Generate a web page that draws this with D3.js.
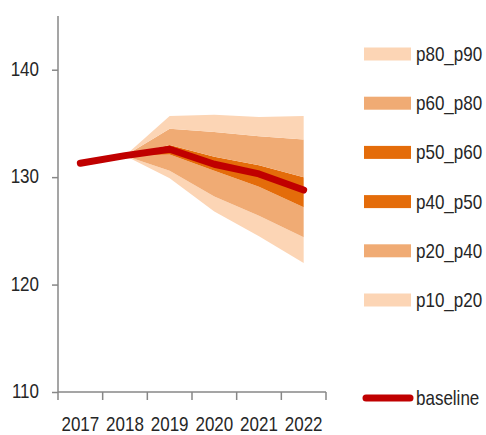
<!DOCTYPE html>
<html>
<head>
<meta charset="utf-8">
<script src="https://cdn.jsdelivr.net/npm/d3@7"></script>
<style>
  html, body { margin: 0; padding: 0; background: #fff; }
  svg { display: block; }
  text { font-family: "Liberation Sans", Arial, sans-serif; fill: #262626; }
</style>
</head>
<body>
<svg id="chart" width="486" height="435"></svg>
<script>
// ---- data ----
const years = ["2017", "2018", "2019", "2020", "2021", "2022"];
const baseline = [131.3, 132.0, 132.6, 131.2, 130.3, 128.8];
const fanYears = ["2018", "2019", "2020", "2021", "2022"];
const p10 = [132.0, 129.9, 126.8, 124.5, 122.0];
const p20 = [132.0, 130.6, 128.2, 126.4, 124.4];
const p40 = [132.0, 132.1, 130.6, 129.1, 127.2];
const p50 = [132.0, 132.5, 131.2, 130.2, 128.6];
const p60 = [132.0, 133.0, 131.9, 131.1, 130.0];
const p80 = [132.0, 134.5, 134.2, 133.8, 133.5];
const p90 = [132.0, 135.7, 135.8, 135.6, 135.7];
const yTicks = [110, 120, 130, 140];
const yDomain = [110, 145];
const legendLabels = ["p80_p90", "p60_p80", "p50_p60", "p40_p50", "p20_p40", "p10_p20"];
const baselineLabel = "baseline";

// ---- styles ----
const cLight = "#FCD5B5", cMid = "#F0AB74", cDark = "#E46C0A", cBase = "#C00000", cAxis = "#878787";
const SX = 0.85; // horizontal condensing of text (narrow look)

const bands = [
  { name: "p10_p20", lo: p10, hi: p20, color: cLight },
  { name: "p20_p40", lo: p20, hi: p40, color: cMid },
  { name: "p40_p50", lo: p40, hi: p50, color: cDark },
  { name: "p50_p60", lo: p50, hi: p60, color: cDark },
  { name: "p60_p80", lo: p60, hi: p80, color: cMid },
  { name: "p80_p90", lo: p80, hi: p90, color: cLight }
];
const colorOf = Object.fromEntries(bands.map(b => [b.name, b.color]));

const svg = d3.select("#chart");
const x = d3.scaleBand().domain(years).range([58, 326]).padding(0);
const y = d3.scaleLinear().domain(yDomain).range([392, 16]);
const cx = d => x(d) + x.bandwidth() / 2;

function label(g, tx, ty, str, anchor) {
  return g.append("text")
    .attr("transform", `translate(${tx},${ty}) scale(${SX},1)`)
    .attr("text-anchor", anchor || "start")
    .attr("dy", "0.35em")
    .attr("font-size", 20)
    .text(str);
}

// fan bands
const area = d3.area()
  .x(d => cx(d.year))
  .y0(d => y(d.lo))
  .y1(d => y(d.hi));
bands.forEach(b => {
  const pts = fanYears.map((yr, i) => ({ year: yr, lo: b.lo[i], hi: b.hi[i] }));
  svg.append("path").attr("d", area(pts)).attr("fill", b.color).attr("stroke", "none");
});

// baseline line
const line = d3.line().x((d, i) => cx(years[i])).y(d => y(d));
svg.append("path").attr("d", line(baseline))
  .attr("fill", "none").attr("stroke", cBase).attr("stroke-width", 7)
  .attr("stroke-linecap", "round").attr("stroke-linejoin", "round");

// y axis
const yAxis = d3.axisLeft(y).tickValues(yTicks).tickSize(6).tickFormat(() => "");
const gy = svg.append("g").attr("transform", "translate(58,0)").call(yAxis);
gy.select(".domain").attr("stroke", cAxis).attr("stroke-width", 1.5).attr("d", "M0,16V392");
gy.selectAll(".tick line").attr("stroke", cAxis).attr("stroke-width", 1.5);
yTicks.forEach(v => label(svg, 39, y(v) - 1, d3.format("d")(v), "end"));

// x axis
const gx = svg.append("g").attr("transform", "translate(0,392)");
gx.append("line").attr("x1", 58).attr("x2", 326).attr("y1", 0).attr("y2", 0)
  .attr("stroke", cAxis).attr("stroke-width", 1.5);
const bounds = years.map(d => x(d)).concat([x(years[years.length - 1]) + x.bandwidth()]);
gx.selectAll("line.tk").data(bounds).join("line").attr("class", "tk")
  .attr("x1", d => d).attr("x2", d => d).attr("y1", 0).attr("y2", 8)
  .attr("stroke", cAxis).attr("stroke-width", 1.5);
years.forEach(d => label(svg, cx(d), 424, d, "middle"));

// legend
const lg = svg.append("g");
const rowY = i => 54 + i * 49.2;
legendLabels.forEach((lab, i) => {
  lg.append("rect").attr("x", 364).attr("y", rowY(i) - 6.5).attr("width", 47).attr("height", 13)
    .attr("fill", colorOf[lab]);
  label(lg, 416, rowY(i), lab);
});
lg.append("line").attr("x1", 366).attr("x2", 410).attr("y1", 398).attr("y2", 398)
  .attr("stroke", cBase).attr("stroke-width", 7).attr("stroke-linecap", "round");
label(lg, 416, 398, baselineLabel);
</script>
</body>
</html>
